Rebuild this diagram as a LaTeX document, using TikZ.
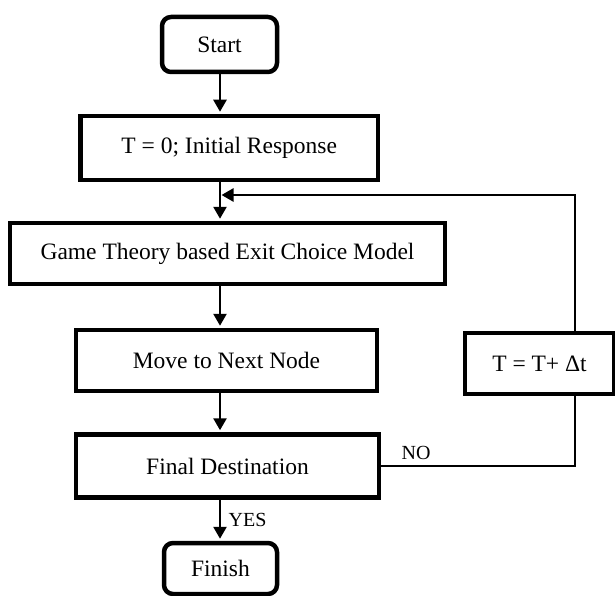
\documentclass[tikz,border=0pt]{standalone}
\usepackage{fontspec}
\setmainfont{Liberation Serif}
\usetikzlibrary{arrows.meta,calc}
\begin{document}
\begin{tikzpicture}[x=1pt,y=-1pt,
  boxtext/.style={font=\fontsize{23.5}{28}\selectfont},
  procbox/.style={draw,line width=4.5pt,inner sep=0pt,boxtext,align=center},
  termbox/.style={procbox,rounded corners=9pt},
  conn/.style={line width=2.6pt},
  arr/.style={conn,-{Triangle[width=13pt,length=12pt]},shorten >=2pt},
  lbl/.style={font=\fontsize{20}{24}\selectfont}
]
\useasboundingbox (0,0) rectangle (615,596);
\node[termbox,minimum width=115pt,minimum height=55pt] (start) at (219.5,44.5) {Start};
\node[procbox,minimum width=297.5pt,minimum height=64pt] (t0) at (229.25,148) {T = 0; Initial Response};
\node[procbox,minimum width=435pt,minimum height=61pt] (game) at (227.5,253.5) {Game Theory based Exit Choice Model};
\node[procbox,minimum width=301pt,minimum height=61pt] (move) at (226.5,360.5) {Move to Next Node};
\node[procbox,minimum width=303pt,minimum height=63pt] (final) at (227.5,466) {Final Destination};
\node[procbox,minimum width=149pt,minimum height=61pt] (tdt) at (539.5,363.5) {T = T+ Δt};
\node[termbox,minimum width=113pt,minimum height=51pt] (finish) at (220.5,568.5) {Finish};
\coordinate (mx) at (220,0);
\coordinate (vx) at (575,0);
\coordinate (fbk) at (221.5,195);
\draw[arr] (start.south -| mx) -- (t0.north -| mx);
\draw[arr] (t0.south -| mx) -- (game.north -| mx);
\draw[arr] (game.south -| mx) -- (move.north -| mx);
\draw[arr] (move.south -| mx) -- (final.north -| mx);
\draw[arr] (final.south -| mx) -- node[lbl,right=4pt,pos=0.5] (yes) {YES} (finish.north -| mx);
\draw[conn] (final.east) -- node[lbl,above=2pt,pos=0.18] (no) {NO} (final.east -| vx) -- (tdt.south -| vx);
\draw[conn,-{Triangle[width=13pt,length=12pt]}] (tdt.north -| vx) -- (vx |- fbk) -- (fbk);
\end{tikzpicture}
\end{document}
